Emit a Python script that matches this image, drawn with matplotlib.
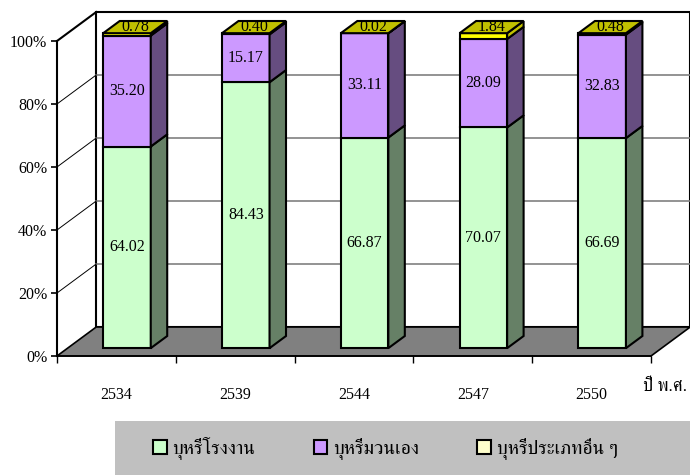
import numpy as np
import matplotlib
matplotlib.use('Agg')
import matplotlib.pyplot as plt
from matplotlib.patches import Polygon, Rectangle, Patch
from matplotlib.font_manager import FontProperties
from matplotlib import font_manager, ft2font

years = ['2534', '2539', '2544', '2547', '2550']
factory = [64.02, 84.43, 66.87, 70.07, 66.69]
rolled = [35.20, 15.17, 33.11, 28.09, 32.83]
other = [0.78, 0.40, 0.02, 1.84, 0.48]
series_names = ['บุหรี่โรงงาน', 'บุหรี่มวนเอง', 'บุหรี่ประเภทอื่น ๆ']
x_title = 'ปี พ.ศ.'
y_ticks = [0, 20, 40, 60, 80, 100]

front_colors = ['#ccffcc', '#cc99ff', '#ffff00']
side_colors = ['#668066', '#664d80', '#c0c000']
legend_colors = ['#ccffcc', '#cc99ff', '#ffffcc']


def find_thai_font():
    # look for any installed font that has Thai glyphs
    found = []
    for f in font_manager.fontManager.ttflist:
        try:
            if ft2font.FT2Font(f.fname).get_char_index(0x0E1A):
                found.append(f.name)
        except Exception:
            continue
    for name in found:
        if 'Serif' in name or 'Looped' in name:
            return name
    return found[0] if found else 'DejaVu Sans'


thai = [find_thai_font(), 'Liberation Serif', 'DejaVu Sans']
serif = ['Liberation Serif', 'DejaVu Serif']

# fake 3d depth, in data units
DX, DY = 0.33, 9.2
d0, d1 = 0.27, 0.69
w = 0.4

fig = plt.figure(figsize=(6.9, 4.75), dpi=100)
ax = fig.add_axes([57 / 690, (475 - 356) / 475, 594 / 690, 315 / 475])
n = len(years)
x0, x1 = -0.5, n - 0.5
ax.set_xlim(x0, x1)
ax.set_ylim(0, 100)
ax.patch.set_visible(False)

# back wall + grid
ax.add_patch(Rectangle((x0 + DX, DY), x1 - x0, 100, fc='white', ec='black',
                       lw=1.5, clip_on=False, zorder=0))
for v in y_ticks[1:-1]:
    ax.plot([x0 + DX, x1 + DX], [v + DY, v + DY], color='#808080', lw=1.2,
            clip_on=False, zorder=0.5)
    ax.plot([x0, x0 + DX], [v, v + DY], color='black', lw=0.7,
            clip_on=False, zorder=0.5)
ax.plot([x0, x0 + DX], [100, 100 + DY], color='black', lw=1.5,
        clip_on=False, zorder=0.5)

# floor
ax.add_patch(Polygon([(x0, 0), (x1, 0), (x1 + DX, DY), (x0 + DX, DY)],
                     fc='#808080', ec='black', lw=1.2, clip_on=False, zorder=1))

xs = np.arange(n)
bottom = np.zeros(n)
for k, vals in enumerate([factory, rolled, other]):
    vals = np.array(vals)
    bars = ax.bar(xs + d0 * DX, vals, w, bottom=bottom + d0 * DY,
                  color=front_colors[k], edgecolor='black', lw=1.5, zorder=3)
    for p in bars:
        p.set_clip_on(False)
    for i in range(n):
        xr = xs[i] + w / 2
        yb, yt = bottom[i], bottom[i] + vals[i]
        side = [(xr + d0 * DX, yb + d0 * DY), (xr + d1 * DX, yb + d1 * DY),
                (xr + d1 * DX, yt + d1 * DY), (xr + d0 * DX, yt + d0 * DY)]
        ax.add_patch(Polygon(side, fc=side_colors[k], ec='black', lw=1.5,
                             clip_on=False, zorder=3))
        if k < 2:
            ax.text(xs[i] + d0 * DX, yb + vals[i] / 2 + d0 * DY, '%.2f' % vals[i],
                    ha='center', va='center', fontsize=11.5, family=serif, zorder=5)
    bottom += vals

# top faces + labels of the last series
for i in range(n):
    xl, xr = xs[i] - w / 2, xs[i] + w / 2
    top = bottom[i]
    ax.add_patch(Polygon([(xl + d0 * DX, top + d0 * DY), (xr + d0 * DX, top + d0 * DY),
                          (xr + d1 * DX, top + d1 * DY), (xl + d1 * DX, top + d1 * DY)],
                         fc=side_colors[2], ec='black', lw=1.5, clip_on=False, zorder=3))
    ax.text(xs[i] + (d0 + d1) / 2 * DX, top + (d0 + d1) / 2 * DY, '%.2f' % other[i],
            ha='center', va='center', fontsize=11.5, family=serif, zorder=5)

ax.set_yticks(y_ticks)
ax.set_yticklabels(['%d%%' % v for v in y_ticks], family=serif, fontsize=11.5)
ax.set_xticks(np.arange(n + 1) - 0.5)
ax.set_xticklabels([])
ax.set_xticks(xs, minor=True)
ax.set_xticklabels(years, minor=True, family=serif, fontsize=11.5)
ax.tick_params(axis='x', which='major', length=5, width=1, direction='out')
ax.tick_params(axis='x', which='minor', length=0, pad=22)
ax.tick_params(axis='y', length=4.5, width=1.2, pad=2.5)
for s in ['top', 'right']:
    ax.spines[s].set_visible(False)
ax.spines['left'].set_linewidth(1.5)
ax.spines['bottom'].set_linewidth(1.2)

fig.text(643 / 690, 1 - 387 / 475, x_title, ha='left', va='center',
         fontsize=13, family=thai)

# legend
fig.patches.append(Rectangle((115 / 690, 0), 1, 54 / 475, transform=fig.transFigure,
                             fc='#c0c0c0', ec='none', zorder=0))
handles = [Patch(fc=c, ec='black', lw=1.5) for c in legend_colors]
fig.legend(handles, series_names, loc='center left', bbox_to_anchor=(153 / 690, 1 - 448 / 475),
           ncol=3, frameon=False, prop=FontProperties(family=thai, size=14),
           handlelength=0.7, handleheight=0.7, handletextpad=0.3,
           columnspacing=3, borderpad=0, borderaxespad=0)

fig.savefig('out.png', dpi=100)
